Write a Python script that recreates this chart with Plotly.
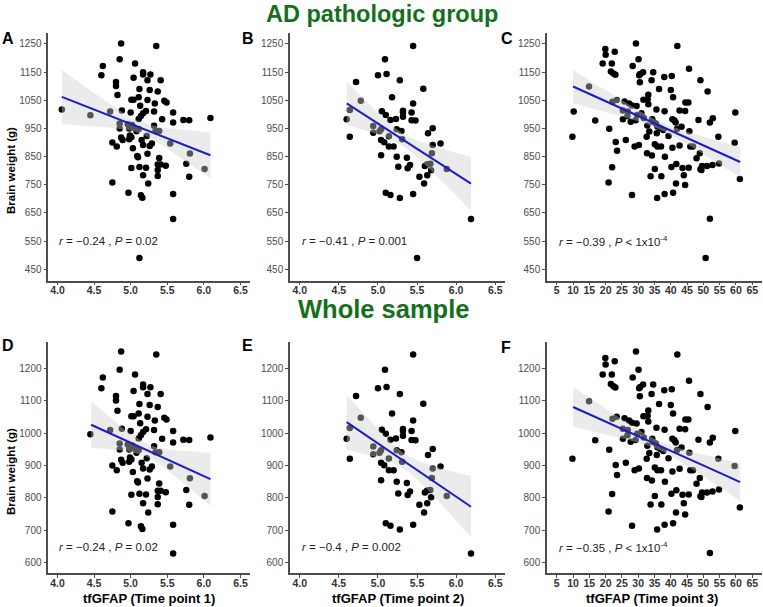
import plotly.graph_objects as go

# ---- AD pathologic group ----
# A : time point 1
a_x = [4.87, 5.35, 4.85, 5.06, 4.62, 4.60, 5.17, 5.17, 5.27, 5.04, 5.23, 5.41, 4.80, 4.80, 4.82, 5.12,
       5.26, 5.37, 5.11, 5.01, 5.04, 5.23, 5.46, 5.49, 5.13, 5.33, 4.88, 5.00, 5.21, 5.17, 5.32, 5.14,
       5.11, 5.43, 5.58, 5.58, 5.72, 5.80, 6.09, 4.06, 4.45, 4.72, 4.85, 4.96, 4.85, 4.98, 5.05, 5.11,
       5.22, 5.32, 5.39, 5.34, 5.54, 5.81, 6.01, 4.99, 5.01, 4.98, 4.87, 4.89, 4.75, 4.81, 5.03, 5.15,
       5.17, 5.26, 5.29, 5.23, 5.09, 5.10, 5.39, 5.37, 5.41, 5.48, 5.76, 5.01, 5.12, 5.21, 5.37, 5.17,
       5.37, 5.80, 5.24, 4.75, 4.97, 5.14, 5.16, 5.58, 5.58, 5.02, 5.08, 5.12]
a_y = [1252, 1243, 1196, 1181, 1172, 1139, 1150, 1142, 1142, 1130, 1121, 1121, 1115, 1101, 1069, 1090,
       1087, 1081, 1061, 1052, 1052, 1051, 1048, 1042, 1031, 1039, 1014, 1007, 1012, 1004, 1010, 994,
       984, 983, 1007, 971, 980, 979, 987, 1017, 997, 1010, 968, 965, 950, 950, 953, 948,
       923, 960, 941, 941, 897, 861, 806, 925, 919, 912, 918, 909, 900, 886, 880, 909,
       891, 888, 897, 860, 852, 848, 845, 822, 822, 818, 825, 810, 813, 811, 803, 784,
       781, 779, 755, 758, 722, 713, 704, 717, 629, 962, 940, 490]
a_bx = [4.06, 4.4, 4.75, 5.1, 5.45, 5.8, 6.09]
a_fit = [1062, 1027, 992, 956, 920, 885, 855]
a_hi = [1158, 1095, 1032, 977, 953, 945, 936]
a_lo = [966, 959, 952, 936, 887, 825, 774]

# B : time point 2
b_x = [5.45, 5.09, 5.11, 5.00, 4.72, 5.28, 5.58, 5.18, 4.78, 5.45, 4.64, 5.05, 5.10, 5.32, 5.32, 5.32,
       5.43, 5.16, 5.23, 5.43, 5.48, 4.60, 4.64, 4.94, 4.94, 5.02, 5.04, 5.14, 5.24, 5.30, 5.31, 5.04,
       5.08, 5.14, 5.20, 5.70, 5.64, 5.80, 5.70, 5.69, 5.04, 5.24, 5.37, 5.26, 5.38, 5.41, 5.60, 5.63,
       5.67, 5.68, 5.63, 5.53, 5.88, 5.59, 5.10, 5.16, 5.28, 5.45, 6.19, 5.50]
b_y = [1243, 1196, 1143, 1139, 1115, 1121, 1091, 1061, 1048, 1039, 1016, 1011, 998, 1013, 1007, 992,
       1007, 980, 984, 979, 978, 983, 921, 959, 935, 940, 947, 922, 947, 941, 912, 909,
       901, 886, 886, 951, 933, 897, 891, 862, 855, 850, 846, 814, 809, 820, 817, 823,
       825, 802, 784, 779, 806, 755, 722, 714, 703, 717, 629, 490]
b_bx = [4.6, 4.85, 5.1, 5.35, 5.6, 5.9, 6.19]
b_fit = [1039, 994, 950, 905, 860, 806, 754]
b_hi = [1116, 1047, 980, 927, 898, 872, 849]
b_lo = [962, 942, 919, 882, 822, 740, 659]

# C : time point 3
c_x = [29.3, 42.0, 19.9, 20.0, 22.8, 19.1, 21.9, 30.1, 28.3, 45.6, 21.6, 22.4, 23.0, 30.6, 31.5, 30.3,
       34.6, 38.0, 40.3, 30.5, 34.1, 49.1, 36.4, 40.0, 51.3, 14.9, 33.1, 40.7, 32.9, 31.6, 22.1, 23.4,
       25.8, 27.2, 44.5, 45.4, 28.1, 29.5, 33.1, 10.2, 25.3, 26.8, 31.0, 35.6, 38.1, 42.7, 59.8, 44.4,
       26.7, 29.7, 31.7, 25.3, 16.8, 27.7, 29.2, 34.3, 34.6, 35.4, 40.5, 41.1, 41.5, 48.5, 52.9, 52.0,
       21.1, 32.8, 35.9, 36.8, 37.7, 41.9, 43.3, 45.7, 33.4, 35.7, 39.3, 32.6, 54.6, 9.8, 59.6, 23.1,
       26.2, 28.9, 30.2, 35.1, 35.9, 37.0, 40.5, 42.7, 46.0, 46.8, 23.5, 32.7, 34.2, 38.2, 47.9, 48.9,
       22.0, 35.1, 40.2, 41.7, 43.6, 45.5, 49.1, 49.6, 51.1, 52.8, 54.8, 49.4, 61.2, 33.8, 37.1, 44.0,
       20.9, 41.6, 44.4, 28.1, 35.8, 38.1, 40.7, 52.0, 50.7]
c_y = [1252, 1243, 1232, 1212, 1222, 1181, 1181, 1196, 1172, 1162, 1152, 1145, 1141, 1143, 1150, 1139,
       1150, 1133, 1136, 1114, 1121, 1121, 1090, 1087, 1081, 1099, 1070, 1061, 1054, 1052, 1045, 1051,
       1046, 1039, 1042, 1042, 1032, 1030, 1036, 1010, 1014, 1010, 1004, 1017, 1011, 1014, 1007, 1012,
       994, 998, 987, 983, 978, 974, 979, 983, 973, 968, 983, 978, 971, 980, 986, 971,
       949, 961, 957, 951, 945, 948, 956, 940, 939, 933, 923, 921, 921, 921, 899, 902,
       909, 886, 891, 894, 886, 886, 882, 890, 886, 886, 871, 862, 854, 850, 844, 862,
       812, 806, 813, 824, 810, 811, 805, 817, 817, 820, 826, 803, 771, 780, 780, 784,
       758, 755, 749, 714, 703, 717, 722, 630, 490]
c_bx = [10, 18.5, 27, 35.5, 44, 52.5, 61.3]
c_fit = [1099, 1055, 1010, 966, 922, 877, 831]
c_hi = [1158, 1096, 1036, 980, 942, 913, 885]
c_lo = [1040, 1013, 985, 952, 901, 841, 777]

# ---- Whole sample ----
# D : time point 1
d_x = [4.87, 5.35, 4.85, 5.06, 4.62, 4.60, 5.17, 5.17, 5.27, 5.04, 5.23, 5.41, 4.80, 4.80, 4.82, 5.12,
       5.26, 5.37, 5.11, 5.01, 5.04, 5.23, 5.46, 5.49, 5.13, 5.33, 4.88, 5.00, 5.21, 5.17, 5.32, 5.14,
       5.11, 5.43, 5.58, 5.58, 5.72, 5.80, 6.09, 4.45, 4.72, 4.85, 4.96, 4.85, 4.98, 5.05, 5.11,
       5.22, 5.32, 5.39, 5.34, 5.54, 5.81, 6.01, 4.99, 5.01, 4.98, 4.87, 4.89, 4.75, 4.81, 5.03, 5.15,
       5.17, 5.26, 5.29, 5.23, 5.09, 5.10, 5.39, 5.37, 5.41, 5.48, 5.76, 5.01, 5.12, 5.21, 5.37, 5.17,
       5.37, 5.80, 5.24, 4.75, 4.97, 5.14, 5.16, 5.58, 5.58, 5.02, 5.08]
d_y = [1252, 1243, 1196, 1181, 1172, 1139, 1150, 1142, 1142, 1130, 1121, 1121, 1115, 1101, 1069, 1090,
       1087, 1081, 1061, 1052, 1052, 1051, 1048, 1042, 1031, 1039, 1014, 1007, 1012, 1004, 1010, 994,
       984, 983, 1007, 971, 980, 979, 987, 997, 1010, 968, 965, 950, 950, 953, 948,
       923, 960, 941, 941, 897, 861, 806, 925, 919, 912, 918, 909, 900, 886, 880, 909,
       891, 888, 897, 860, 852, 848, 845, 822, 822, 818, 825, 810, 813, 811, 803, 784,
       781, 779, 755, 758, 722, 713, 704, 717, 629, 962, 940]
d_bx = [4.46, 4.73, 5.0, 5.27, 5.55, 5.82, 6.09]
d_fit = [1026, 998, 970, 942, 913, 885, 858]
d_hi = [1098, 1047, 998, 963, 949, 944, 939]
d_lo = [955, 950, 942, 922, 877, 827, 776]

# E : time point 2
e_x = b_x[:-1]
e_y = b_y[:-1]
e_bx = [4.6, 4.85, 5.1, 5.35, 5.6, 5.9, 6.19]
e_fit = [1034, 993, 952, 911, 870, 821, 773]
e_hi = [1119, 1052, 988, 935, 907, 885, 868]
e_lo = [950, 934, 916, 887, 834, 756, 679]

# F : time point 3
f_x = [v for i, v in enumerate(c_x) if i not in (39, 122)]
f_y = [v for i, v in enumerate(c_y) if i not in (39, 122)]
f_bx = [10, 18.5, 27, 35.5, 44, 52.5, 61.3]
f_fit = [1081, 1043, 1004, 966, 927, 889, 849]
f_hi = [1143, 1086, 1030, 980, 950, 928, 908]
f_lo = [1020, 1000, 979, 952, 905, 850, 791]

stat_text = ["<i>r</i> = −0.24 , <i>P</i> = 0.02",
             "<i>r</i> = −0.41 , <i>P</i> = 0.001",
             "<i>r</i> = −0.39 , <i>P</i> &lt; 1x10<sup>-4</sup>",
             "<i>r</i> = −0.24 , <i>P</i> = 0.02",
             "<i>r</i> = −0.4 , <i>P</i> = 0.002",
             "<i>r</i> = −0.35 , <i>P</i> &lt; 1x10<sup>-4</sup>"]
letters = ["A", "B", "C", "D", "E", "F"]
x_titles = ["tfGFAP (Time point 1)", "tfGFAP (Time point 2)", "tfGFAP (Time point 3)"]

W, H = 763, 607
FONT = "Liberation Sans, Arial, sans-serif"
BLUE = "#1c1cc8"
GREEN = "#13701b"
AXC = "#4d4d4d"

panels = [
    (a_x, a_y, a_bx, a_fit, a_hi, a_lo),
    (b_x, b_y, b_bx, b_fit, b_hi, b_lo),
    (c_x, c_y, c_bx, c_fit, c_hi, c_lo),
    (d_x, d_y, d_bx, d_fit, d_hi, d_lo),
    (e_x, e_y, e_bx, e_fit, e_hi, e_lo),
    (f_x, f_y, f_bx, f_fit, f_hi, f_lo),
]

# pixel positions of panels
col_px = [(48.3, 249.6), (290, 505), (547, 762)]
row_px = [(32.7, 280.6), (341.7, 573.3)]

fig = go.Figure()
for i, (px_, py_, bx, fit, hi, lo) in enumerate(panels):
    n = i + 1
    xa = "x" if n == 1 else "x%d" % n
    ya = "y" if n == 1 else "y%d" % n
    fig.add_trace(go.Scatter(x=px_, y=py_, mode="markers", xaxis=xa, yaxis=ya,
                             marker=dict(size=6.5, color="black"), showlegend=False))
    fig.add_trace(go.Scatter(x=bx, y=lo, mode="lines", xaxis=xa, yaxis=ya,
                             line=dict(width=0, shape="spline"), showlegend=False))
    fig.add_trace(go.Scatter(x=bx, y=hi, mode="lines", xaxis=xa, yaxis=ya, fill="tonexty",
                             fillcolor="rgba(207,207,207,0.41)",
                             line=dict(width=0, shape="spline"), showlegend=False))
    fig.add_trace(go.Scatter(x=bx, y=fit, mode="lines", xaxis=xa, yaxis=ya,
                             line=dict(width=2, color=BLUE), showlegend=False))

    r, c = divmod(i, 3)
    x0, x1 = col_px[c]
    y0, y1 = row_px[r]
    if c == 2:
        xr = [2, 68]
        xt = list(range(5, 70, 5))
        xfmt = "d"
        lab_x = 5
    else:
        xr = [3.875, 6.625]
        xt = [4.0, 4.5, 5.0, 5.5, 6.0, 6.5]
        xfmt = ".1f"
        lab_x = 4.0
    if r == 0:
        yr = [410, 1290]
        yt = list(range(450, 1300, 100))
        lab_y = 550
    else:
        yr = [567.5, 1282.5]
        yt = list(range(600, 1250, 100))
        lab_y = 650
    xkey = "xaxis" if n == 1 else "xaxis%d" % n
    ykey = "yaxis" if n == 1 else "yaxis%d" % n
    fig.layout[xkey] = dict(domain=[x0 / W, x1 / W], range=xr, anchor=ya, tickvals=xt,
                            tickformat=xfmt, showgrid=False, zeroline=False, showline=True,
                            linecolor=AXC, linewidth=1.5, ticks="outside", ticklen=3,
                            tickcolor=AXC, tickwidth=1.2, ticklabelstandoff=-4,
                            tickfont=dict(family=FONT, size=10.5, color="#333333", weight="bold"))
    fig.layout[ykey] = dict(domain=[1 - y1 / H, 1 - y0 / H], range=yr, anchor=xa, tickvals=yt,
                            showgrid=False, zeroline=False, showline=True,
                            linecolor=AXC, linewidth=1.5, ticks="outside", ticklen=3,
                            tickcolor=AXC, tickwidth=1.2,
                            tickfont=dict(family=FONT, size=10, color=AXC))
    fig.add_annotation(x=lab_x, y=lab_y, xref=xa, yref=ya, text=stat_text[i], showarrow=False,
                       xanchor="left", yanchor="middle",
                       font=dict(family=FONT, size=11.5, color="#222222"))

letter_pos = [(8, 38), (248, 38), (507, 38), (8, 345), (248, 345), (506, 347)]
for L, (lx, ly) in zip(letters, letter_pos):
    fig.add_annotation(x=lx / W, y=1 - ly / H, xref="paper", yref="paper", text="<b>%s</b>" % L,
                       showarrow=False, xanchor="center", yanchor="middle",
                       font=dict(family=FONT, size=16, color="black"))

fig.add_annotation(x=382 / W, y=1 - 14 / H, xref="paper", yref="paper",
                   text="<b>AD pathologic group</b>", showarrow=False,
                   xanchor="center", yanchor="middle", font=dict(family=FONT, size=23.5, color=GREEN))
fig.add_annotation(x=383 / W, y=1 - 309 / H, xref="paper", yref="paper",
                   text="<b>Whole sample</b>", showarrow=False,
                   xanchor="center", yanchor="middle", font=dict(family=FONT, size=25.5, color=GREEN))

for yc in (171, 472):
    fig.add_annotation(x=11 / W, y=1 - yc / H, xref="paper", yref="paper",
                       text="<b>Brain weight (g)</b>", textangle=-90, showarrow=False,
                       xanchor="center", yanchor="middle", font=dict(family=FONT, size=11.5, color="black"))

for t, xc in zip(x_titles, (149, 397.5, 652)):
    fig.add_annotation(x=xc / W, y=1 - 598 / H, xref="paper", yref="paper",
                       text="<b>%s</b>" % t, showarrow=False,
                       xanchor="center", yanchor="middle", font=dict(family=FONT, size=13, color="black"))

fig.update_layout(width=W, height=H, margin=dict(l=0, r=0, t=0, b=0),
                  plot_bgcolor="white", paper_bgcolor="white", showlegend=False)

# page has a default body margin; remove it so the figure sits at the window's corner
fig.write_html("out.html", config={"displayModeBar": False},
               post_script="document.body.style.margin='0px';")
